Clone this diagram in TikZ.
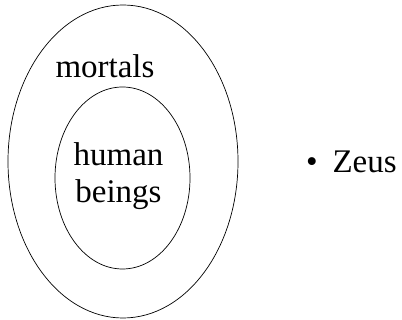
\documentclass[tikz,border=0pt]{standalone}
\usepackage{fontspec}
\setmainfont{Liberation Serif}
\begin{document}
\begin{tikzpicture}[x=1pt,y=-1pt,
  setline/.style={draw=black,line width=0.7pt},
  lbl/.style={inner sep=0pt,font=\fontsize{33}{37}\selectfont}]
\useasboundingbox (0,0) rectangle (402,320);
\draw[setline] (123,161.5) ellipse [x radius=115, y radius=156.5];
\draw[setline] (122.5,178) ellipse [x radius=67.5, y radius=91];
\node[lbl,anchor=base] (mortals) at (105,78) {mortals};
\node[lbl,anchor=base,align=center] (human) at (118.5,203) {human\\beings};
\node[lbl,anchor=base west] (zeus) at (306,173) {\textbullet\hspace{0.45em}Zeus};
\end{tikzpicture}
\end{document}
